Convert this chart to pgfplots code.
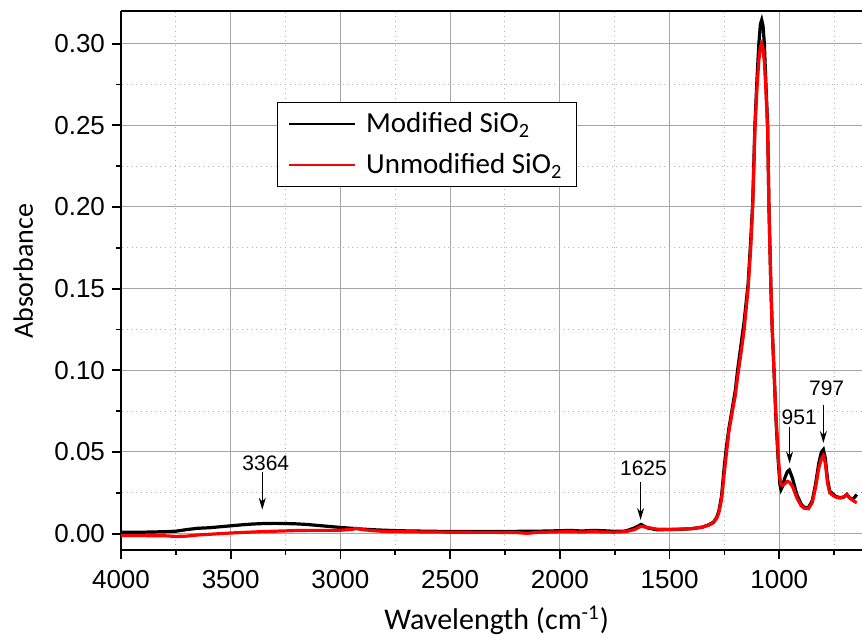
\documentclass[border=0pt]{standalone}
\usepackage{fontspec}
\setmainfont{Liberation Sans}
\newfontfamily\carlito{Carlito}
\usepackage{pgfplots}
\usepackage{pgfplotstable}
\pgfplotsset{compat=1.18}
\usetikzlibrary{arrows.meta}

\pgfplotstableread{
x mod unmod
4000 0.0008 -0.0012
3900 0.0009 -0.0012
3800 0.0012 -0.0013
3750 0.0015 -0.0017
3700 0.0025 -0.0015
3650 0.0033 -0.0008
3600 0.0036 -0.0004
3550 0.0042 0.0000
3500 0.0048 0.0004
3450 0.0054 0.0007
3400 0.0059 0.0010
3350 0.0062 0.0013
3300 0.0063 0.0015
3250 0.0062 0.0017
3200 0.0060 0.0019
3150 0.0056 0.0020
3100 0.0050 0.0020
3050 0.0044 0.0020
3000 0.0038 0.0021
2950 0.0033 0.0026
2925 0.0031 0.0032
2900 0.0028 0.0025
2850 0.0024 0.0018
2800 0.0021 0.0014
2700 0.0017 0.0012
2600 0.0015 0.0010
2500 0.0013 0.0009
2400 0.0013 0.0008
2300 0.0013 0.0008
2200 0.0014 0.0007
2150 0.0015 0.0002
2100 0.0015 0.0008
2000 0.0018 0.0011
1950 0.0020 0.0012
1900 0.0016 0.0010
1850 0.0020 0.0012
1800 0.0018 0.0010
1750 0.0014 0.0009
1700 0.0016 0.0012
1660 0.0035 0.0025
1630 0.0056 0.0045
1600 0.0035 0.0038
1560 0.0024 0.0028
1500 0.0025 0.0026
1450 0.0027 0.0028
1400 0.0030 0.0031
1350 0.0040 0.0040
1320 0.0055 0.0053
1300 0.0070 0.0067
1285 0.0100 0.0095
1275 0.0140 0.0130
1263 0.0230 0.0210
1250 0.0420 0.0380
1240 0.0540 0.0500
1230 0.0640 0.0620
1215 0.0760 0.0740
1200 0.0880 0.0850
1190 0.1000 0.0960
1175 0.1150 0.1100
1160 0.1300 0.1250
1142 0.1530 0.1500
1130 0.1800 0.1750
1121 0.2030 0.2000
1111 0.2500 0.2470
1102 0.2770 0.2720
1093 0.3000 0.2900
1086 0.3120 0.2980
1080 0.3145 0.3000
1074 0.3110 0.2970
1068 0.3000 0.2890
1061 0.2760 0.2720
1053 0.2500 0.2470
1047 0.2000 0.2000
1038 0.1500 0.1500
1032 0.1250 0.1250
1024 0.1000 0.1000
1015 0.0700 0.0720
1005 0.0450 0.0480
997 0.0300 0.0340
992 0.0270 0.0300
985 0.0290 0.0295
975 0.0340 0.0305
963 0.0380 0.0320
954 0.0390 0.0315
940 0.0340 0.0290
920 0.0240 0.0220
900 0.0180 0.0170
885 0.0160 0.0155
867 0.0160 0.0153
850 0.0200 0.0190
835 0.0300 0.0280
820 0.0430 0.0400
808 0.0500 0.0460
799 0.0515 0.0477
790 0.0460 0.0430
780 0.0330 0.0310
770 0.0260 0.0250
761 0.0250 0.0240
745 0.0230 0.0225
723 0.0220 0.0218
705 0.0225 0.0225
692 0.0240 0.0240
680 0.0220 0.0220
666 0.0210 0.0205
655 0.0225 0.0195
647 0.0240 0.0190
}\datatable

\begin{document}
\begin{tikzpicture}
\begin{axis}[
  scale only axis,
  width=370.5pt, height=269.5pt,
  x dir=reverse,
  xmin=623, xmax=4000,
  ymin=-0.01, ymax=0.32,
  axis x line*=bottom, axis y line*=left,
  axis line style={line width=1pt, black},
  xtick={1000,1500,2000,2500,3000,3500,4000},
  minor xtick={750,1250,1750,2250,2750,3250,3750},
  ytick={0,0.05,0.10,0.15,0.20,0.25,0.30},
  minor ytick={0.025,0.075,0.125,0.175,0.225,0.275},
  tick align=outside,
  major tick length=4.5pt, minor tick length=2.5pt,
  every tick/.style={black, line width=0.9pt},
  grid=both,
  major grid style={draw=black!35, line width=0.5pt},
  minor grid style={draw=black!30, dotted, line width=0.5pt},
  /pgf/number format/assume math mode=true,
  /pgf/number format/1000 sep={},
  scaled y ticks=false,
  yticklabel style={/pgf/number format/.cd, fixed, fixed zerofill, precision=2},
  ticklabel style={font=\fontsize{13}{15}\selectfont},
  xticklabel style={yshift=-2pt},
  xlabel={\carlito Wavelength (cm\textsuperscript{-1})},
  ylabel={\carlito Absorbance},
  xlabel style={font=\fontsize{15}{17}\selectfont, at={(axis description cs:0.507,-0.13)}, anchor=center},
  ylabel style={font=\fontsize{14}{16}\selectfont, at={(axis description cs:-0.132,0.517)}, anchor=center},
  legend style={at={(axis description cs:0.2105,0.831)}, anchor=north west,
    draw=black, line width=0.5pt, fill=white,
    font=\carlito\fontsize{14.5}{16}\selectfont,
    inner xsep=5pt, inner ysep=3pt, row sep=5pt},
  legend cell align=left,
  legend image code/.code={\draw[#1, line width=1.1pt] (2pt,0pt) -- (35pt,0pt); \path (38pt,0pt);},
]
\addplot[black, line width=1.6pt] table[x=x, y=mod] {\datatable};
\addlegendentry{Modified SiO\textsubscript{2}}
\addplot[red, line width=1.6pt] table[x=x, y=unmod] {\datatable};
\addlegendentry{Unmodified SiO\textsubscript{2}}

\draw[line width=1pt] (rel axis cs:0,1) -- (rel axis cs:1,1);

\node[font=\fontsize{10.5}{12}\selectfont] at (axis cs:3340,0.043) {3364};
\draw[-{Stealth[length=6pt,width=3.5pt]}, line width=0.6pt] (axis cs:3356,0.038) -- (axis cs:3356,0.0147);
\node[font=\fontsize{10.5}{12}\selectfont] at (axis cs:1619,0.040) {1625};
\draw[-{Stealth[length=6pt,width=3.5pt]}, line width=0.6pt] (axis cs:1632,0.0315) -- (axis cs:1632,0.0084);
\node[font=\fontsize{10.5}{12}\selectfont] at (axis cs:909,0.071) {951};
\draw[-{Stealth[length=6pt,width=3.5pt]}, line width=0.6pt] (axis cs:953,0.0655) -- (axis cs:953,0.043);
\node[font=\fontsize{10.5}{12}\selectfont] at (axis cs:784,0.089) {797};
\draw[-{Stealth[length=6pt,width=3.5pt]}, line width=0.6pt] (axis cs:799,0.079) -- (axis cs:799,0.0555);

\coordinate (bl) at (rel axis cs:0,0);
\coordinate (tr) at (rel axis cs:1,1);
\end{axis}
\pgfresetboundingbox
\useasboundingbox ([xshift=-60.5pt,yshift=-42.5pt]bl) rectangle ([yshift=5.5pt]tr);
\end{tikzpicture}
\end{document}
